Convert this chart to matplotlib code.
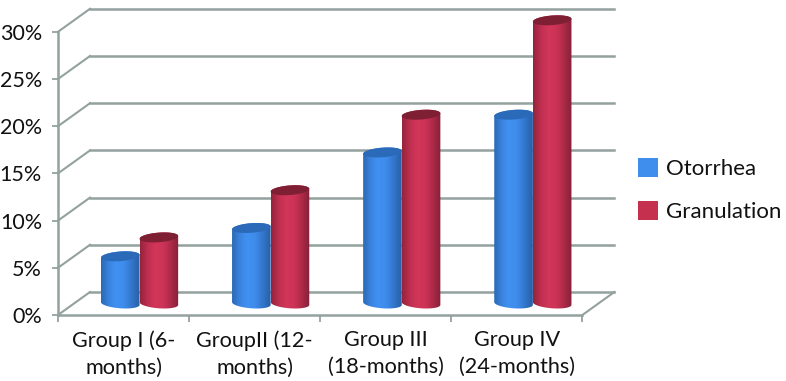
#!/usr/bin/env python3
"""Two-series cylinder chart with a fake 3D wall, drawn on one flat axes."""
import matplotlib
matplotlib.use("Agg")
import matplotlib.pyplot as plt
import numpy as np
from matplotlib.colors import LinearSegmentedColormap
from matplotlib.patches import Patch, PathPatch, Polygon
from matplotlib.path import Path

plt.rcParams["font.family"] = ["Lato", "DejaVu Sans"]

groups = ["Group I (6-\nmonths)", "GroupII (12-\nmonths)",
          "Group III\n(18-months)", "Group IV\n(24-months)"]
otorrhea = [5, 8, 16, 20]
granulation = [7, 12, 20, 30]
y_ticks = [0, 5, 10, 15, 20, 25, 30]

W, H = 786, 381
X0, Y0 = 58.0, 315.0        # front corner of the plot, pixels
PX_X = 131.1                # pixels per category
PX_Y = 9.44                 # pixels per percent
DEPTH_X = 32 / PX_X         # wall offset, in data units
DEPTH_Y = 23 / PX_Y
HALF = 19.3 / PX_X          # cylinder half width
ELL_B = 4.8 / PX_Y          # cylinder cap half height
ELL_T = 1.4 / PX_Y          # cap tilt

GRID = "#93a19f"
BLUE = LinearSegmentedColormap.from_list(
    "b", ["#2c69b5", "#3a84e0", "#4191f2", "#3e8bea", "#3276cb", "#285fa5"])
RED = LinearSegmentedColormap.from_list(
    "r", ["#94243c", "#c02f50", "#d23659", "#cc3356", "#ad2a47", "#85203a"])
BLUE_TOP = "#2a6ab8"
RED_TOP = "#7e1f33"

fig = plt.figure(figsize=(W / 100, H / 100), dpi=100)
ax = fig.add_axes([0, 0, 1, 1])
ax.patch.set_alpha(0)

n = len(groups)
top = y_ticks[-1]

# walls and floor
for v in y_ticks:
    ax.plot([0, DEPTH_X], [v, v + DEPTH_Y], color=GRID, lw=1.5, zorder=1)
    ax.plot([DEPTH_X, n + DEPTH_X], [v + DEPTH_Y, v + DEPTH_Y], color=GRID, lw=1.8, zorder=1)
ax.plot([n, n + DEPTH_X], [0, DEPTH_Y], color=GRID, lw=1.5, zorder=1)


def cylinder(xc, val, cmap, cap):
    t = np.linspace(0, np.pi, 40)
    base = DEPTH_Y / 2
    # lower arc of the base, left to right
    bx = xc - HALF * np.cos(t)
    by = base - ELL_B * np.sin(t) + ELL_T * np.cos(t)
    # upper arc of the top, right to left
    tx = xc + HALF * np.cos(t)
    ty = base + val + ELL_B * np.sin(t) + ELL_T * np.cos(t)
    verts = np.vstack([np.column_stack([bx, by]), np.column_stack([tx, ty])])
    body = Polygon(verts, closed=True, transform=ax.transData,
                   facecolor="none", edgecolor="none", zorder=3)
    ax.add_patch(body)
    grad = np.linspace(0, 1, 64).reshape(1, -1)
    im = ax.imshow(grad, cmap=cmap, aspect="auto", zorder=3,
                   extent=[xc - HALF, xc + HALF, base - 2, base + val + 2])
    im.set_clip_path(body)
    # cap ellipse
    s = np.linspace(0, 2 * np.pi, 80)
    cx = xc + HALF * np.cos(s)
    cy = base + val + ELL_B * np.sin(s) + ELL_T * np.cos(s)
    path = Path(np.column_stack([cx, cy]))
    ax.add_patch(PathPatch(path, facecolor=cap, edgecolor="none", zorder=3))


for i in range(n):
    # blue sits left of the mid line, red right of it
    mid = i + 0.5 + DEPTH_X / 2
    cylinder(mid - HALF, otorrhea[i], BLUE, BLUE_TOP)
    cylinder(mid + HALF, granulation[i], RED, RED_TOP)

ax.set_xlim(-X0 / PX_X, (W - X0) / PX_X)
ax.set_ylim((Y0 - H) / PX_Y, Y0 / PX_Y)

# front axes
for side in ["top", "right"]:
    ax.spines[side].set_visible(False)
ax.spines["left"].set_position(("data", 0))
ax.spines["left"].set_bounds(0, top)
ax.spines["bottom"].set_position(("data", 0))
ax.spines["bottom"].set_bounds(0, n)
ax.spines["left"].set_color(GRID)
ax.spines["bottom"].set_color(GRID)
ax.spines["left"].set_linewidth(1.8)
ax.spines["bottom"].set_linewidth(1.8)

ax.set_yticks(y_ticks)
ax.set_yticklabels([f"{v}%" for v in y_ticks], fontsize=15.5, color="#111111")
ax.tick_params(axis="y", length=4.5, width=1.3, color=GRID, pad=7)
ax.set_xticks(np.arange(n + 1))
ax.set_xticklabels([])
ax.set_xticks(np.arange(n) + 0.5, groups, minor=True, fontsize=15.6,
              color="#111111", linespacing=1.42)
ax.tick_params(axis="x", which="major", length=5, width=1.3, color=GRID)
ax.tick_params(axis="x", which="minor", length=0, pad=11)

handles = [Patch(facecolor="#3f8eee", label="Otorrhea"),
           Patch(facecolor="#c5304f", label="Granulation")]
ax.legend(handles=handles, loc="center left", bbox_to_anchor=(638 / W, 1 - 190 / H),
          frameon=False, fontsize=16, handlelength=0.92, handleheight=0.95,
          handletextpad=0.36, labelspacing=0.95, borderpad=0, borderaxespad=0,
          labelcolor="#111111")

fig.savefig("out.png", dpi=100)
